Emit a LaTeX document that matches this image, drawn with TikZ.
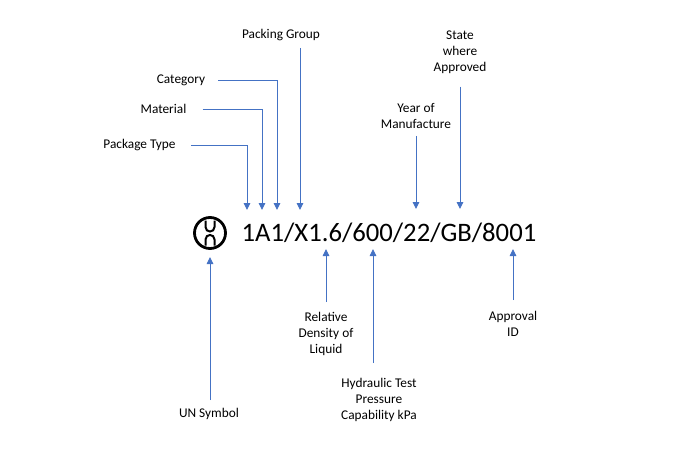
\documentclass[tikz,border=0pt]{standalone}
\usepackage{fontspec}
\setmainfont{Carlito}
\usetikzlibrary{arrows.meta}
\definecolor{markblue}{HTML}{4472C4}

\begin{document}
\begin{tikzpicture}[x=1pt,y=-1pt,
  lbl/.style={font=\fontsize{13.33}{16}\selectfont,align=center,inner sep=1pt},
  pointer/.style={color=markblue,line width=0.9pt,-{Triangle[length=7pt,width=6.5pt]}}]
\useasboundingbox (0,0) rectangle (697,450);

% the marking
\node[anchor=base west,inner sep=0pt,font=\fontsize{26.67}{30}\selectfont] (code) at (241.5,241) {1A1/X1.6/600/22/GB/8001};
\node[circle,draw,line width=2.8pt,minimum size=31pt,inner sep=0pt] (unsym) at (210,233) {};
\draw[line width=2pt] (205.5,220.5) -- (205.5,227) .. controls (205.5,233) and (214.5,233) .. (214.5,227) -- (214.5,220.5);
\draw[line width=2pt] (205.5,245.5) -- (205.5,239.5) .. controls (205.5,233.5) and (214.5,233.5) .. (214.5,239.5) -- (214.5,245.5);

% labels above
\node[lbl] (pg) at (281,35) {Packing Group};
\node[lbl] (cat) at (181,80) {Category};
\node[lbl] (mat) at (163.5,109) {Material};
\node[lbl] (pt) at (139.5,145) {Package Type};
\node[lbl] (year) at (416,116) {Year of\\Manufacture};
\node[lbl] (state) at (460,52) {State\\where\\Approved};

% labels below
\node[lbl] (un) at (209,414) {UN Symbol};
\node[lbl] (rel) at (326,334) {Relative\\Density of\\Liquid};
\node[lbl] (hyd) at (379,400) {Hydraulic Test\\Pressure\\Capability kPa};
\node[lbl] (appr) at (513,324) {Approval\\ID};

% arrow tips
\coordinate (tPT) at (247,210);
\coordinate (tMAT) at (262,210);
\coordinate (tCAT) at (277,210);
\coordinate (tPG) at (300,210);
\coordinate (tYEAR) at (416,209);
\coordinate (tSTATE) at (460,209);
\coordinate (tUN) at (210,257);
\coordinate (tREL) at (326,249);
\coordinate (tHYD) at (373,249);
\coordinate (tAPPR) at (513,249);

\draw[pointer] ([xshift=14pt]pt.east) -| (tPT);
\draw[pointer] ([xshift=15pt]mat.east) -| (tMAT);
\draw[pointer] ([xshift=12pt]cat.east) -| (tCAT);
\draw[pointer,shorten <=6pt] (pg.south -| tPG) -- (tPG);
\draw[pointer,shorten <=6pt] (year.south) -- (tYEAR);
\draw[pointer,shorten <=12pt] (state.south) -- (tSTATE);

\draw[pointer,shorten <=7pt] (un.north -| tUN) -- (tUN);
\draw[pointer,shorten <=9pt] (rel.north) -- (tREL);
\draw[pointer,shorten <=14pt] (hyd.north -| tHYD) -- (tHYD);
\draw[pointer,shorten <=10pt] (appr.north) -- (tAPPR);
\end{tikzpicture}
\end{document}
